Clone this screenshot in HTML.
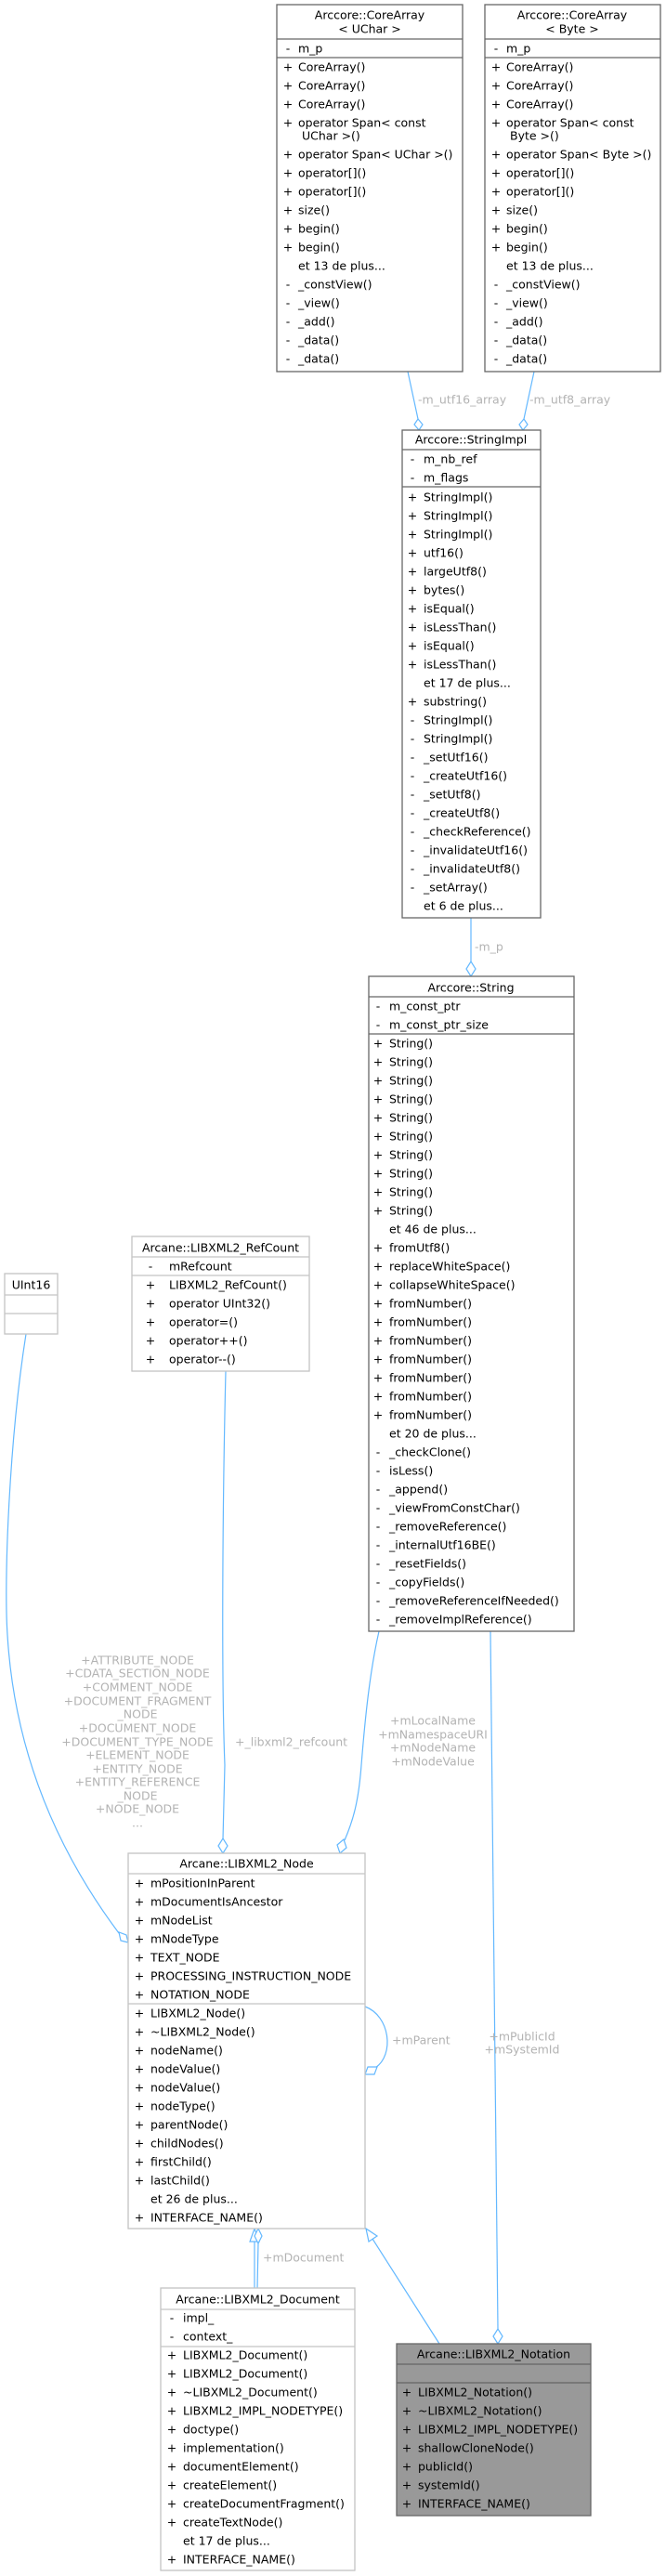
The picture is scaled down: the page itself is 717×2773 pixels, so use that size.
<!DOCTYPE html>
<html><head><meta charset="utf-8"><style>
html,body{margin:0;padding:0;background:#fff;}
svg{display:block;}
text{font-family:"DejaVu Sans","Liberation Sans",sans-serif;font-size:12.5px;fill:#000;dominant-baseline:central;}
.t{text-anchor:middle;}
.s{text-anchor:middle;}
.l{fill:#b3b3b3;}
.lc{fill:#b3b3b3;text-anchor:middle;}
.dk{fill:#fff;stroke:#666;stroke-width:1.3;}
.lt{fill:#fff;stroke:#c4c4c4;stroke-width:1.3;}
.sep{stroke:#666;stroke-width:1.3;}
.sepl{stroke:#c4c4c4;stroke-width:1.3;}
.e{fill:none;stroke:#63b8ff;stroke-width:1.2;}
.d{fill:#fff;stroke:#63b8ff;stroke-width:1.2;}
</style></head><body>
<svg width="717" height="2773" viewBox="0 0 717 2773" xmlns="http://www.w3.org/2000/svg">

<path class="e" d="M439,400 L450,451"/>
<polygon class="d" points="451,463 446,457 450,451 455,457"/>
<path class="e" d="M575,400 L564,451"/>
<polygon class="d" points="563,463 559,457 564,451 568,457"/>
<path class="e" d="M507,988 L507,1035"/>
<polygon class="d" points="507,1051 502,1043 507,1035 512,1043"/>
<path class="e" d="M408,1756 C398,1800 393,1850 389,1900 C386,1940 380,1960 371,1981"/>
<polygon class="d" points="366,1995 363,1986 370,1980 373,1989"/>
<path class="e" d="M528,1756 L536,2507"/>
<polygon class="d" points="536,2523 531,2515 536,2507 541,2515"/>
<path class="e" d="M243,1476 C240,1600 238,1800 242,1900 L240,1980"/>
<polygon class="d" points="240,1995 235,1987 240,1979 245,1987"/>
<path class="e" d="M28,1436 C10,1550 4,1700 8,1760 C14,1860 45,1970 128,2081"/>
<polygon class="d" points="138,2091 130,2089 128,2080 136,2083"/>
<path class="e" d="M393,2160 C420,2170 425,2212 404,2226"/>
<polygon class="d" points="393,2233 396,2225 406,2225 403,2233"/>
<path class="e" d="M274,2463 L274,2413"/>
<polygon class="d" points="274,2399 269,2413 279,2413"/>
<path class="e" d="M277,2463 L278,2415"/>
<polygon class="d" points="278,2399 274,2407 278,2415 282,2407"/>
<path class="e" d="M473,2523 L401,2410"/>
<polygon class="d" points="394,2399 397,2413 406,2407"/>

<text class="l" x="450" y="430">-m_utf16_array</text>
<text class="l" x="570" y="430">-m_utf8_array</text>
<text class="l" x="511" y="1019">-m_p</text>
<text class="lc" x="466" y="1852">+mLocalName</text>
<text class="lc" x="466" y="1867">+mNamespaceURI</text>
<text class="lc" x="466" y="1881">+mNodeName</text>
<text class="lc" x="466" y="1896">+mNodeValue</text>
<text class="l" x="253" y="1875">+_libxml2_refcount</text>
<text class="lc" x="148" y="1787">+ATTRIBUTE_NODE</text>
<text class="lc" x="148" y="1801">+CDATA_SECTION_NODE</text>
<text class="lc" x="148" y="1816">+COMMENT_NODE</text>
<text class="lc" x="148" y="1831">+DOCUMENT_FRAGMENT</text>
<text class="lc" x="148" y="1845">_NODE</text>
<text class="lc" x="148" y="1860">+DOCUMENT_NODE</text>
<text class="lc" x="148" y="1875">+DOCUMENT_TYPE_NODE</text>
<text class="lc" x="148" y="1889">+ELEMENT_NODE</text>
<text class="lc" x="148" y="1904">+ENTITY_NODE</text>
<text class="lc" x="148" y="1918">+ENTITY_REFERENCE</text>
<text class="lc" x="148" y="1933">_NODE</text>
<text class="lc" x="148" y="1947">+NODE_NODE</text>
<text class="lc" x="148" y="1962">...</text>
<text class="l" x="422" y="2196">+mParent</text>
<text class="l" x="283" y="2430">+mDocument</text>
<text class="lc" x="562" y="2192">+mPublicId</text>
<text class="lc" x="562" y="2206">+mSystemId</text>

<g transform="translate(298,5)">
<rect class="dk" x="0" y="0" width="200" height="395"/>
<line class="sep" x1="0" y1="37" x2="200" y2="37"/><line class="sep" x1="0" y1="57" x2="200" y2="57"/>
<text class="t" x="100" y="11">Arccore::CoreArray</text>
<text class="t" x="100" y="26">&lt; UChar &gt;</text>
<text class="s" x="12" y="47">-</text><text x="23" y="47">m_p</text>
<text class="s" x="12" y="67">+</text><text x="23" y="67">CoreArray()</text>
<text class="s" x="12" y="87">+</text><text x="23" y="87">CoreArray()</text>
<text class="s" x="12" y="107">+</text><text x="23" y="107">CoreArray()</text>
<text class="s" x="12" y="127">+</text><text x="23" y="127">operator Span&lt; const</text>
<text x="27" y="141">UChar &gt;()</text>
<text class="s" x="12" y="161">+</text><text x="23" y="161">operator Span&lt; UChar &gt;()</text>
<text class="s" x="12" y="181">+</text><text x="23" y="181">operator[]()</text>
<text class="s" x="12" y="201">+</text><text x="23" y="201">operator[]()</text>
<text class="s" x="12" y="221">+</text><text x="23" y="221">size()</text>
<text class="s" x="12" y="241">+</text><text x="23" y="241">begin()</text>
<text class="s" x="12" y="261">+</text><text x="23" y="261">begin()</text>
<text x="23" y="281">et 13 de plus...</text>
<text class="s" x="12" y="301">-</text><text x="23" y="301">_constView()</text>
<text class="s" x="12" y="321">-</text><text x="23" y="321">_view()</text>
<text class="s" x="12" y="341">-</text><text x="23" y="341">_add()</text>
<text class="s" x="12" y="361">-</text><text x="23" y="361">_data()</text>
<text class="s" x="12" y="381">-</text><text x="23" y="381">_data()</text>
</g>

<g transform="translate(522,5)">
<rect class="dk" x="0" y="0" width="189" height="395"/>
<line class="sep" x1="0" y1="37" x2="189" y2="37"/><line class="sep" x1="0" y1="57" x2="189" y2="57"/>
<text class="t" x="94" y="11">Arccore::CoreArray</text>
<text class="t" x="94" y="26">&lt; Byte &gt;</text>
<text class="s" x="12" y="47">-</text><text x="23" y="47">m_p</text>
<text class="s" x="12" y="67">+</text><text x="23" y="67">CoreArray()</text>
<text class="s" x="12" y="87">+</text><text x="23" y="87">CoreArray()</text>
<text class="s" x="12" y="107">+</text><text x="23" y="107">CoreArray()</text>
<text class="s" x="12" y="127">+</text><text x="23" y="127">operator Span&lt; const</text>
<text x="27" y="141">Byte &gt;()</text>
<text class="s" x="12" y="161">+</text><text x="23" y="161">operator Span&lt; Byte &gt;()</text>
<text class="s" x="12" y="181">+</text><text x="23" y="181">operator[]()</text>
<text class="s" x="12" y="201">+</text><text x="23" y="201">operator[]()</text>
<text class="s" x="12" y="221">+</text><text x="23" y="221">size()</text>
<text class="s" x="12" y="241">+</text><text x="23" y="241">begin()</text>
<text class="s" x="12" y="261">+</text><text x="23" y="261">begin()</text>
<text x="23" y="281">et 13 de plus...</text>
<text class="s" x="12" y="301">-</text><text x="23" y="301">_constView()</text>
<text class="s" x="12" y="321">-</text><text x="23" y="321">_view()</text>
<text class="s" x="12" y="341">-</text><text x="23" y="341">_add()</text>
<text class="s" x="12" y="361">-</text><text x="23" y="361">_data()</text>
<text class="s" x="12" y="381">-</text><text x="23" y="381">_data()</text>
</g>

<g transform="translate(433,463)">
<rect class="dk" x="0" y="0" width="149" height="525"/>
<line class="sep" x1="0" y1="21" x2="149" y2="21"/><line class="sep" x1="0" y1="61" x2="149" y2="61"/>
<text class="t" x="74" y="10">Arccore::StringImpl</text>
<text class="s" x="11" y="31">-</text><text x="23" y="31">m_nb_ref</text>
<text class="s" x="11" y="51">-</text><text x="23" y="51">m_flags</text>
<text class="s" x="11" y="72">+</text><text x="23" y="72">StringImpl()</text>
<text class="s" x="11" y="92">+</text><text x="23" y="92">StringImpl()</text>
<text class="s" x="11" y="112">+</text><text x="23" y="112">StringImpl()</text>
<text class="s" x="11" y="132">+</text><text x="23" y="132">utf16()</text>
<text class="s" x="11" y="152">+</text><text x="23" y="152">largeUtf8()</text>
<text class="s" x="11" y="172">+</text><text x="23" y="172">bytes()</text>
<text class="s" x="11" y="192">+</text><text x="23" y="192">isEqual()</text>
<text class="s" x="11" y="212">+</text><text x="23" y="212">isLessThan()</text>
<text class="s" x="11" y="232">+</text><text x="23" y="232">isEqual()</text>
<text class="s" x="11" y="252">+</text><text x="23" y="252">isLessThan()</text>
<text x="23" y="272">et 17 de plus...</text>
<text class="s" x="11" y="292">+</text><text x="23" y="292">substring()</text>
<text class="s" x="11" y="312">-</text><text x="23" y="312">StringImpl()</text>
<text class="s" x="11" y="332">-</text><text x="23" y="332">StringImpl()</text>
<text class="s" x="11" y="352">-</text><text x="23" y="352">_setUtf16()</text>
<text class="s" x="11" y="372">-</text><text x="23" y="372">_createUtf16()</text>
<text class="s" x="11" y="392">-</text><text x="23" y="392">_setUtf8()</text>
<text class="s" x="11" y="412">-</text><text x="23" y="412">_createUtf8()</text>
<text class="s" x="11" y="432">-</text><text x="23" y="432">_checkReference()</text>
<text class="s" x="11" y="452">-</text><text x="23" y="452">_invalidateUtf16()</text>
<text class="s" x="11" y="472">-</text><text x="23" y="472">_invalidateUtf8()</text>
<text class="s" x="11" y="492">-</text><text x="23" y="492">_setArray()</text>
<text x="23" y="512">et 6 de plus...</text>
</g>

<g transform="translate(397,1051)">
<rect class="dk" x="0" y="0" width="221" height="705"/>
<line class="sep" x1="0" y1="22" x2="221" y2="22"/><line class="sep" x1="0" y1="62" x2="221" y2="62"/>
<text class="t" x="110" y="12">Arccore::String</text>
<text class="s" x="10" y="32">-</text><text x="22" y="32">m_const_ptr</text>
<text class="s" x="10" y="52">-</text><text x="22" y="52">m_const_ptr_size</text>
<text class="s" x="10" y="72">+</text><text x="22" y="72">String()</text>
<text class="s" x="10" y="92">+</text><text x="22" y="92">String()</text>
<text class="s" x="10" y="112">+</text><text x="22" y="112">String()</text>
<text class="s" x="10" y="132">+</text><text x="22" y="132">String()</text>
<text class="s" x="10" y="152">+</text><text x="22" y="152">String()</text>
<text class="s" x="10" y="172">+</text><text x="22" y="172">String()</text>
<text class="s" x="10" y="192">+</text><text x="22" y="192">String()</text>
<text class="s" x="10" y="212">+</text><text x="22" y="212">String()</text>
<text class="s" x="10" y="232">+</text><text x="22" y="232">String()</text>
<text class="s" x="10" y="252">+</text><text x="22" y="252">String()</text>
<text x="22" y="272">et 46 de plus...</text>
<text class="s" x="10" y="292">+</text><text x="22" y="292">fromUtf8()</text>
<text class="s" x="10" y="312">+</text><text x="22" y="312">replaceWhiteSpace()</text>
<text class="s" x="10" y="332">+</text><text x="22" y="332">collapseWhiteSpace()</text>
<text class="s" x="10" y="352">+</text><text x="22" y="352">fromNumber()</text>
<text class="s" x="10" y="372">+</text><text x="22" y="372">fromNumber()</text>
<text class="s" x="10" y="392">+</text><text x="22" y="392">fromNumber()</text>
<text class="s" x="10" y="412">+</text><text x="22" y="412">fromNumber()</text>
<text class="s" x="10" y="432">+</text><text x="22" y="432">fromNumber()</text>
<text class="s" x="10" y="452">+</text><text x="22" y="452">fromNumber()</text>
<text class="s" x="10" y="472">+</text><text x="22" y="472">fromNumber()</text>
<text x="22" y="492">et 20 de plus...</text>
<text class="s" x="10" y="512">-</text><text x="22" y="512">_checkClone()</text>
<text class="s" x="10" y="532">-</text><text x="22" y="532">isLess()</text>
<text class="s" x="10" y="552">-</text><text x="22" y="552">_append()</text>
<text class="s" x="10" y="572">-</text><text x="22" y="572">_viewFromConstChar()</text>
<text class="s" x="10" y="592">-</text><text x="22" y="592">_removeReference()</text>
<text class="s" x="10" y="612">-</text><text x="22" y="612">_internalUtf16BE()</text>
<text class="s" x="10" y="632">-</text><text x="22" y="632">_resetFields()</text>
<text class="s" x="10" y="652">-</text><text x="22" y="652">_copyFields()</text>
<text class="s" x="10" y="672">-</text><text x="22" y="672">_removeReferenceIfNeeded()</text>
<text class="s" x="10" y="692">-</text><text x="22" y="692">_removeImplReference()</text>
</g>

<g transform="translate(5,1371)">
<rect class="lt" x="0" y="0" width="57" height="65"/>
<line class="sepl" x1="0" y1="23" x2="57" y2="23"/><line class="sepl" x1="0" y1="43" x2="57" y2="43"/>
<text class="t" x="28.5" y="12">UInt16</text>
</g>

<g transform="translate(142,1331)">
<rect class="lt" x="0" y="0" width="191" height="145"/>
<line class="sepl" x1="0" y1="22" x2="191" y2="22"/><line class="sepl" x1="0" y1="42" x2="191" y2="42"/>
<text class="t" x="95.5" y="12">Arcane::LIBXML2_RefCount</text>
<text class="s" x="20" y="32">-</text><text x="40" y="32">mRefcount</text>
<text class="s" x="20" y="52">+</text><text x="40" y="52">LIBXML2_RefCount()</text>
<text class="s" x="20" y="72">+</text><text x="40" y="72">operator UInt32()</text>
<text class="s" x="20" y="92">+</text><text x="40" y="92">operator=()</text>
<text class="s" x="20" y="112">+</text><text x="40" y="112">operator++()</text>
<text class="s" x="20" y="132">+</text><text x="40" y="132">operator--()</text>
</g>

<g transform="translate(138,1995)">
<rect class="lt" x="0" y="0" width="255" height="404"/>
<line class="sepl" x1="0" y1="22" x2="255" y2="22"/><line class="sepl" x1="0" y1="162" x2="255" y2="162"/>
<text class="t" x="127.5" y="11">Arcane::LIBXML2_Node</text>
<text class="s" x="12" y="32">+</text><text x="24" y="32">mPositionInParent</text>
<text class="s" x="12" y="52">+</text><text x="24" y="52">mDocumentIsAncestor</text>
<text class="s" x="12" y="72">+</text><text x="24" y="72">mNodeList</text>
<text class="s" x="12" y="92">+</text><text x="24" y="92">mNodeType</text>
<text class="s" x="12" y="112">+</text><text x="24" y="112">TEXT_NODE</text>
<text class="s" x="12" y="132">+</text><text x="24" y="132">PROCESSING_INSTRUCTION_NODE</text>
<text class="s" x="12" y="152">+</text><text x="24" y="152">NOTATION_NODE</text>
<text class="s" x="12" y="172">+</text><text x="24" y="172">LIBXML2_Node()</text>
<text class="s" x="12" y="192">+</text><text x="24" y="192">~LIBXML2_Node()</text>
<text class="s" x="12" y="212">+</text><text x="24" y="212">nodeName()</text>
<text class="s" x="12" y="232">+</text><text x="24" y="232">nodeValue()</text>
<text class="s" x="12" y="252">+</text><text x="24" y="252">nodeValue()</text>
<text class="s" x="12" y="272">+</text><text x="24" y="272">nodeType()</text>
<text class="s" x="12" y="292">+</text><text x="24" y="292">parentNode()</text>
<text class="s" x="12" y="312">+</text><text x="24" y="312">childNodes()</text>
<text class="s" x="12" y="332">+</text><text x="24" y="332">firstChild()</text>
<text class="s" x="12" y="352">+</text><text x="24" y="352">lastChild()</text>
<text x="24" y="372">et 26 de plus...</text>
<text class="s" x="12" y="392">+</text><text x="24" y="392">INTERFACE_NAME()</text>
</g>

<g transform="translate(173,2463)">
<rect class="lt" x="0" y="0" width="209" height="304"/>
<line class="sepl" x1="0" y1="23" x2="209" y2="23"/><line class="sepl" x1="0" y1="63" x2="209" y2="63"/>
<text class="t" x="104.5" y="12">Arcane::LIBXML2_Document</text>
<text class="s" x="12" y="32">-</text><text x="24" y="32">impl_</text>
<text class="s" x="12" y="52">-</text><text x="24" y="52">context_</text>
<text class="s" x="12" y="72">+</text><text x="24" y="72">LIBXML2_Document()</text>
<text class="s" x="12" y="92">+</text><text x="24" y="92">LIBXML2_Document()</text>
<text class="s" x="12" y="112">+</text><text x="24" y="112">~LIBXML2_Document()</text>
<text class="s" x="12" y="132">+</text><text x="24" y="132">LIBXML2_IMPL_NODETYPE()</text>
<text class="s" x="12" y="152">+</text><text x="24" y="152">doctype()</text>
<text class="s" x="12" y="172">+</text><text x="24" y="172">implementation()</text>
<text class="s" x="12" y="192">+</text><text x="24" y="192">documentElement()</text>
<text class="s" x="12" y="212">+</text><text x="24" y="212">createElement()</text>
<text class="s" x="12" y="232">+</text><text x="24" y="232">createDocumentFragment()</text>
<text class="s" x="12" y="252">+</text><text x="24" y="252">createTextNode()</text>
<text x="24" y="272">et 17 de plus...</text>
<text class="s" x="12" y="292">+</text><text x="24" y="292">INTERFACE_NAME()</text>
</g>

<g transform="translate(427,2523)">
<rect x="0" y="0" width="209" height="185" fill="#999999" stroke="#666" stroke-width="1.3"/>
<line class="sep" x1="0" y1="22" x2="209" y2="22"/><line class="sep" x1="0" y1="42" x2="209" y2="42"/>
<text class="t" x="104.5" y="11">Arcane::LIBXML2_Notation</text>
<text class="s" x="11" y="52">+</text><text x="23" y="52">LIBXML2_Notation()</text>
<text class="s" x="11" y="72">+</text><text x="23" y="72">~LIBXML2_Notation()</text>
<text class="s" x="11" y="92">+</text><text x="23" y="92">LIBXML2_IMPL_NODETYPE()</text>
<text class="s" x="11" y="112">+</text><text x="23" y="112">shallowCloneNode()</text>
<text class="s" x="11" y="132">+</text><text x="23" y="132">publicId()</text>
<text class="s" x="11" y="152">+</text><text x="23" y="152">systemId()</text>
<text class="s" x="11" y="172">+</text><text x="23" y="172">INTERFACE_NAME()</text>
</g>

</svg>
</body></html>
